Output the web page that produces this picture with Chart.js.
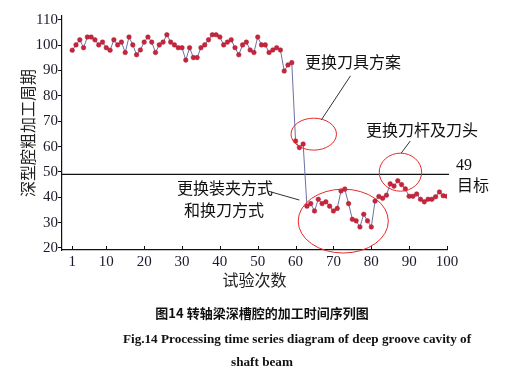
<!DOCTYPE html>
<html>
<head>
<meta charset="utf-8">
<script src="https://cdn.jsdelivr.net/npm/chart.js@4.4.1/dist/chart.umd.min.js"></script>
<style>
  html, body { margin: 0; padding: 0; background: #fff; }
  #wrap { width: 518px; height: 374px; position: relative; }
</style>
</head>
<body>
<div id="wrap"><canvas id="cycleChart"></canvas></div>
<script>
// trial number (x) and machining cycle (y)
const trials = [
  1, 2, 3, 4, 5, 6, 7, 8, 9, 10, 11, 12, 13, 14, 15, 16, 17, 18, 19, 20,
  21, 22, 23, 24, 25, 26, 27, 28, 29, 30, 31, 32, 33, 34, 35, 36, 37, 38, 39, 40,
  41, 42, 43, 44, 45, 46, 47, 48, 49, 50, 51, 52, 53, 54, 55, 56, 57, 58, 59, 60,
  61, 62, 63, 64, 65, 66, 67, 68, 69, 70, 71, 72, 73, 74, 75, 76, 77, 78, 79, 80,
  81, 82, 83, 84, 85, 86, 87, 88, 89, 90, 91, 92, 93, 94, 95, 96, 97, 98, 99, 100
];
const cycles = [
  98.0, 100.1, 102.1, 99.0, 103.2, 103.2, 102.1, 100.1, 101.2, 99.0,
  98.0, 102.1, 100.1, 101.2, 97.1, 103.2, 100.1, 96.2, 98.1, 101.2,
  103.2, 101.2, 97.1, 100.1, 101.2, 104.1, 101.2, 100.1, 99.0, 99.0,
  94.1, 99.0, 95.1, 95.1, 99.0, 100.1, 102.1, 104.1, 104.1, 103.2,
  100.1, 101.2, 102.1, 99.0, 96.2, 100.1, 101.2, 98.1, 97.1, 103.2,
  100.1, 100.1, 97.1, 98.1, 99.0, 98.1, 89.8, 92.2, 93.1, 62.2,
  59.6, 61.0, 36.5, 37.5, 34.6, 39.2, 37.5, 38.2, 36.5, 34.6,
  35.6, 42.5, 43.2, 37.5, 31.3, 30.7, 28.3, 33.3, 30.7, 28.3,
  38.5, 40.3, 39.6, 40.8, 45.3, 44.4, 46.5, 45.0, 43.3, 40.4,
  40.4, 41.3, 39.2, 38.2, 39.2, 39.2, 40.2, 42.1, 40.6, 40.4
];
const xTicks = [1, 10, 20, 30, 40, 50, 60, 70, 80, 90, 100];
const yTicks = [20, 30, 40, 50, 60, 70, 80, 90, 100, 110];
const target = 49;

// circled regions: centre and radii in data units
const circles = [
  { x: 64.8, y: 64.9, rx: 6.0, ry: 6.3 },
  { x: 72.6, y: 30.6, rx: 11.9, ry: 12.6 },
  { x: 87.7, y: 49.9, rx: 5.6, ry: 7.5 }
];
// leader lines from labels to circles, data units
const leaders = [
  [74.5, 87.9, 66.8, 70.5],
  [90.3, 62.2, 87.9, 57.4],
  [52.8, 42.4, 61.0, 38.9]
];

const cjk = '"Noto Sans CJK SC", "Noto Sans", sans-serif';
const serif = '"Liberation Serif", "DejaVu Serif", serif';

const overlay = {
  id: 'overlay',
  beforeDatasetsDraw(chart) {
    const { ctx, chartArea, scales: { x, y } } = chart;
    const ty = y.getPixelForValue(target);
    ctx.save();
    ctx.strokeStyle = '#111';
    ctx.lineWidth = 1.2;
    ctx.beginPath();
    ctx.moveTo(chartArea.left, ty);
    ctx.lineTo(chartArea.right + 2, ty);
    ctx.stroke();
    // inward ticks on x axis
    ctx.lineWidth = 1;
    x.ticks.forEach(t => {
      const px = Math.round(x.getPixelForValue(t.value)) + 0.5;
      ctx.beginPath();
      ctx.moveTo(px, chartArea.bottom);
      ctx.lineTo(px, chartArea.bottom - 4);
      ctx.stroke();
    });
    ctx.restore();
  },
  afterDraw(chart) {
    const { ctx, scales: { x, y } } = chart;
    ctx.save();
    ctx.strokeStyle = '#e8282a';
    ctx.lineWidth = 1;
    circles.forEach(c => {
      const cx = x.getPixelForValue(c.x), cy = y.getPixelForValue(c.y);
      const rx = x.getPixelForValue(c.x + c.rx) - cx;
      const ry = cy - y.getPixelForValue(c.y + c.ry);
      ctx.beginPath();
      ctx.ellipse(cx, cy, rx, ry, 0, 0, Math.PI * 2);
      ctx.stroke();
    });
    ctx.strokeStyle = '#333';
    leaders.forEach(l => {
      ctx.beginPath();
      ctx.moveTo(x.getPixelForValue(l[0]), y.getPixelForValue(l[1]));
      ctx.lineTo(x.getPixelForValue(l[2]), y.getPixelForValue(l[3]));
      ctx.stroke();
    });

    ctx.fillStyle = '#111';
    ctx.textBaseline = 'middle';
    ctx.textAlign = 'left';
    ctx.font = '16px ' + cjk;
    ctx.fillText('更换刀具方案', 305, 62);
    ctx.fillText('更换刀杆及刀头', 366, 130);
    ctx.fillText('更换装夹方式', 177, 188);
    ctx.fillText('和换刀方式', 184, 210);
    ctx.fillText('目标', 457, 185);
    ctx.font = '16px ' + serif;
    ctx.fillText('49', 456, 166);

    ctx.textAlign = 'center';
    ctx.font = 'bold 13px ' + cjk;
    ctx.fillText('图14 转轴梁深槽腔的加工时间序列图', 262, 313);
    ctx.font = 'bold 13.2px ' + serif;
    ctx.fillText('Fig.14 Processing time series diagram of deep groove cavity of', 297, 340);
    ctx.fillText('shaft beam', 262, 363);
    ctx.restore();
  }
};

new Chart(document.getElementById('cycleChart'), {
  type: 'line',
  data: {
    datasets: [{
      label: 'cycle',
      data: trials.map((t, i) => ({ x: t, y: cycles[i] })),
      borderColor: '#6c70a6',
      borderWidth: 1,
      pointBackgroundColor: '#c8243c',
      pointBorderColor: '#a81c30',
      pointBorderWidth: 0.5,
      pointRadius: 2.3,
      tension: 0
    }]
  },
  options: {
    responsive: true,
    maintainAspectRatio: false,
    animation: false,
    layout: { padding: { left: 0, top: 16, right: 71, bottom: 84 } },
    plugins: { legend: { display: false }, tooltip: { enabled: false } },
    scales: {
      x: {
        type: 'linear',
        min: -1.7,
        max: 100,
        afterBuildTicks: s => { s.ticks = xTicks.map(v => ({ value: v })); },
        afterFit: s => { s.height = 40; },
        border: { color: '#111', width: 1.2 },
        grid: { drawOnChartArea: false, drawTicks: false },
        ticks: { color: '#1a1a2a', font: { family: serif, size: 15 }, padding: 3, maxRotation: 0, autoSkip: false },
        title: { display: true, text: '试验次数', color: '#222', font: { family: cjk, size: 16 }, padding: 0 }
      },
      y: {
        min: 19.2,
        max: 111.5,
        afterBuildTicks: s => { s.ticks = yTicks.map(v => ({ value: v })); },
        afterFit: s => { s.width = 62; },
        border: { color: '#111', width: 1.2 },
        grid: { drawOnChartArea: false, tickLength: 4, color: '#111' },
        ticks: { color: '#1a1a2a', font: { family: serif, size: 15 }, padding: 0 },
        title: { display: true, text: '深型腔粗加工周期', color: '#222', font: { family: cjk, size: 16 }, padding: { top: 18 } }
      }
    }
  },
  plugins: [overlay]
});
</script>
</body>
</html>
